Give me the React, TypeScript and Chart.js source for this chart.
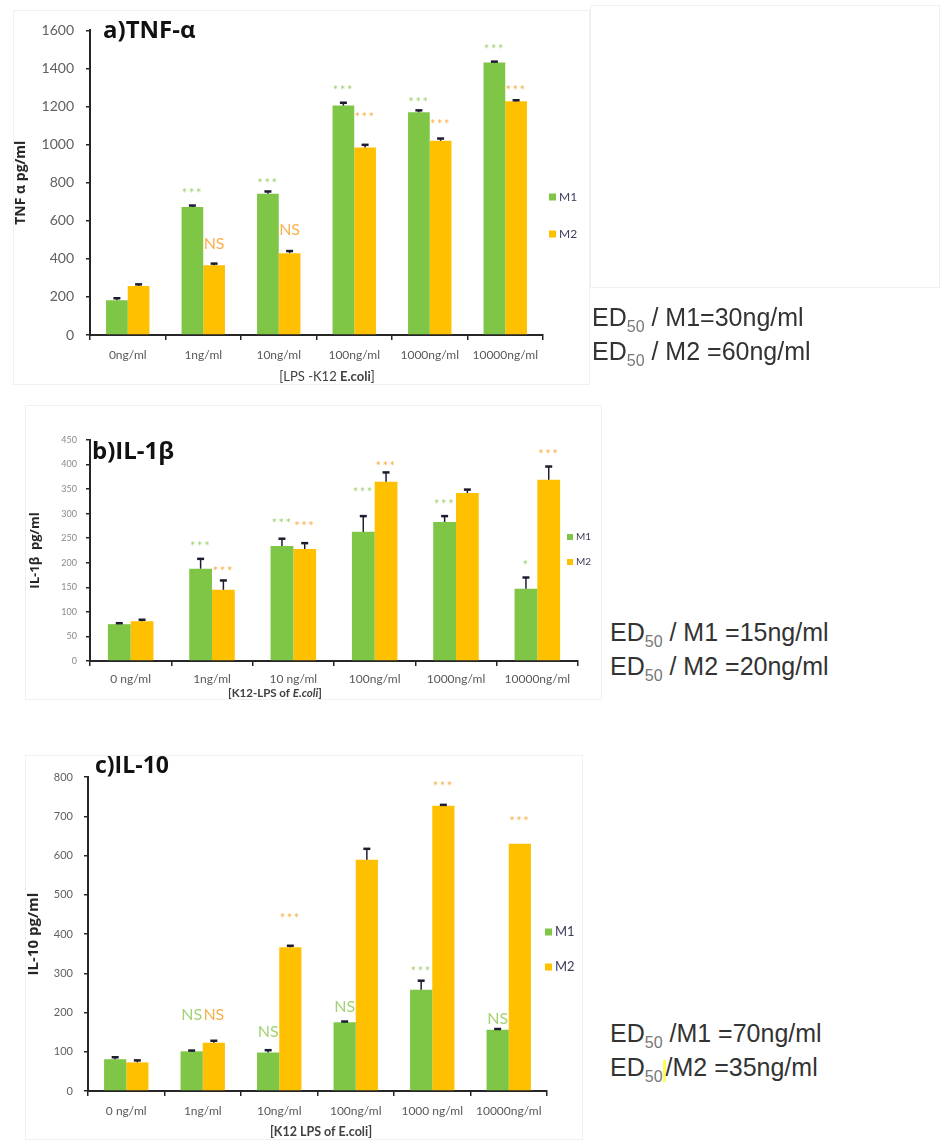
import React, { useEffect, useRef } from "react";
import { Chart, registerables } from "chart.js";

Chart.register(...registerables);

// ---------- DATA ----------
const seriesNames = ["M1", "M2"];

// a) TNF-alpha
const tnfCategories = ["0ng/ml", "1ng/ml", "10ng/ml", "100ng/ml", "1000ng/ml", "10000ng/ml"];
const tnfM1 = [183, 672, 742, 1205, 1170, 1432];
const tnfM1Err = [10, 8, 12, 15, 10, 4];
const tnfM2 = [258, 366, 430, 985, 1020, 1228];
const tnfM2Err = [8, 9, 11, 14, 12, 5];
const tnfM1Sig = ["", "***", "***", "***", "***", "***"];
const tnfM1SigAt = [0, 753, 805, 1295, 1229, 1506];
const tnfM2Sig = ["", "NS", "NS", "***", "***", "***"];
const tnfM2SigAt = [0, 480, 554, 1151, 1117, 1295];
const tnfYTicks = [0, 200, 400, 600, 800, 1000, 1200, 1400, 1600];

// b) IL-1beta
const il1bCategories = ["0 ng/ml", "1ng/ml", "10 ng/ml", "100ng/ml", "1000ng/ml", "10000ng/ml"];
const il1bM1 = [75, 188, 234, 263, 283, 147];
const il1bM1Err = [2, 20, 15, 32, 12, 23];
const il1bM2 = [81, 145, 228, 365, 342, 369];
const il1bM2Err = [3, 19, 12, 19, 7, 27];
const il1bM1Sig = ["", "***", "***", "***", "***", "*"];
const il1bM1SigAt = [0, 236, 283, 346, 322, 198];
const il1bM2Sig = ["", "***", "***", "***", "", "***"];
const il1bM2SigAt = [0, 185, 278, 400, 0, 423];
const il1bYTicks = [0, 50, 100, 150, 200, 250, 300, 350, 400, 450];

// c) IL-10
const il10Categories = ["0 ng/ml", "1ng/ml", "10ng/ml", "100ng/ml", "1000 ng/ml", "10000ng/ml"];
const il10M1 = [81, 101, 98, 175, 258, 156];
const il10M1Err = [5, 2, 6, 2, 23, 2];
const il10M2 = [73, 123, 366, 589, 727, 630];
const il10M2Err = [5, 5, 4, 28, 2, 0];
const il10M1Sig = ["", "NS", "NS", "NS", "***", "NS"];
const il10M1SigAt = [0, 193, 151, 215, 308, 185];
const il10M2Sig = ["", "NS", "***", "", "***", "***"];
const il10M2SigAt = [0, 193, 444, 0, 781, 691];
const il10YTicks = [0, 100, 200, 300, 400, 500, 600, 700, 800];

// ---------- STYLE ----------
const GREEN = "#80c646";
const ORANGE = "#ffc000";
const GREEN_LABEL = "#a2d273";
const ORANGE_LABEL = "#f8b04c";
const AXIS = "#262626";
const TICK_FONT = "Lato, 'Open Sans', sans-serif";
const TITLE_FONT = "'Open Sans', 'DejaVu Sans', sans-serif";

type Seg = { text: string; bold?: boolean; italic?: boolean };

const overlayPlugin = {
  id: "overlay",
  afterDatasetsDraw(chart: any) {
    const o = chart.options.plugins.overlay;
    const ctx = chart.ctx;
    const ys = chart.scales.y;
    ctx.save();
    chart.data.datasets.forEach((ds: any, di: number) => {
      const meta = chart.getDatasetMeta(di);
      meta.data.forEach((bar: any, i: number) => {
        const v = ds.data[i];
        const e = ds.errors[i];
        if (e > 0) {
          const y0 = ys.getPixelForValue(v);
          const y1 = ys.getPixelForValue(v + e);
          ctx.strokeStyle = "#1d1d30";
          ctx.lineWidth = 1.5;
          ctx.beginPath();
          ctx.moveTo(bar.x, y0);
          ctx.lineTo(bar.x, y1);
          ctx.stroke();
          ctx.lineWidth = 2.5;
          ctx.beginPath();
          ctx.moveTo(bar.x - 3.5, y1);
          ctx.lineTo(bar.x + 3.5, y1);
          ctx.stroke();
        }
        const s = ds.sig[i];
        if (s) {
          const ns = s === "NS";
          ctx.font = `${ns ? o.nsSize : o.starSize}px ${TICK_FONT}`;
          (ctx as any).letterSpacing = ns ? "0px" : "1.5px";
          ctx.fillStyle = ds.sigColor;
          ctx.textAlign = "center";
          ctx.textBaseline = "middle";
          ctx.fillText(s, bar.x, ys.getPixelForValue(ds.sigAt[i]) + (ns ? 0 : 2));
        }
      });
    });
    (ctx as any).letterSpacing = "0px";
    ctx.restore();
  },
  afterDraw(chart: any) {
    const o = chart.options.plugins.overlay;
    const ctx = chart.ctx;
    ctx.save();
    // panel title
    ctx.font = `bold ${o.titleSize}px ${TITLE_FONT}`;
    ctx.fillStyle = "#111";
    ctx.textAlign = "left";
    ctx.textBaseline = "middle";
    ctx.fillText(o.title, o.titleX, o.titleY);
    // x axis title (mixed styles)
    const segs: Seg[] = o.xTitle;
    const fontOf = (s: Seg) =>
      `${s.italic ? "italic " : ""}${s.bold || o.xTitleBold ? "bold " : ""}${o.xTitleSize}px ${TICK_FONT}`;
    let total = 0;
    segs.forEach((s) => {
      ctx.font = fontOf(s);
      total += ctx.measureText(s.text).width;
    });
    let x = o.xTitleX - total / 2;
    ctx.fillStyle = "#404040";
    segs.forEach((s) => {
      ctx.font = fontOf(s);
      ctx.fillText(s.text, x, o.xTitleY);
      x += ctx.measureText(s.text).width;
    });
    // legend
    chart.data.datasets.forEach((ds: any, di: number) => {
      const y = o.legendYs[di];
      ctx.fillStyle = ds.backgroundColor;
      ctx.fillRect(o.legendX, y - o.legendBox / 2, o.legendBox, o.legendBox);
      ctx.font = `${o.legendSize}px ${TICK_FONT}`;
      ctx.fillStyle = "#3c3c5c";
      ctx.fillText(ds.label, o.legendX + o.legendBox + 3, y);
    });
    ctx.restore();
  },
};

interface PanelCfg {
  left: number;
  top: number;
  width: number;
  height: number;
  categories: string[];
  m1: number[];
  m1Err: number[];
  m1Sig: string[];
  m1SigAt: number[];
  m2: number[];
  m2Err: number[];
  m2Sig: string[];
  m2SigAt: number[];
  yTicks: number[];
  yTitle: string;
  yTitleSize: number;
  yTitlePad: number;
  yTickSize: number;
  yTickPad: number;
  yTickColor: string;
  xTickSize: number;
  xTickPad: number;
  padTop: number;
  padRight: number;
  yWidth: number;
  xHeight: number;
  catPct: number;
  overlay: any;
}

function Panel({ cfg }: { cfg: PanelCfg }) {
  const ref = useRef<HTMLCanvasElement>(null);
  useEffect(() => {
    const maxY = cfg.yTicks[cfg.yTicks.length - 1];
    const chart = new Chart(ref.current as HTMLCanvasElement, {
      type: "bar",
      data: {
        labels: cfg.categories,
        datasets: [
          {
            label: seriesNames[0],
            data: cfg.m1,
            backgroundColor: GREEN,
            errors: cfg.m1Err,
            sig: cfg.m1Sig,
            sigAt: cfg.m1SigAt,
            sigColor: GREEN_LABEL,
            categoryPercentage: cfg.catPct,
            barPercentage: 1,
          } as any,
          {
            label: seriesNames[1],
            data: cfg.m2,
            backgroundColor: ORANGE,
            errors: cfg.m2Err,
            sig: cfg.m2Sig,
            sigAt: cfg.m2SigAt,
            sigColor: ORANGE_LABEL,
            categoryPercentage: cfg.catPct,
            barPercentage: 1,
          } as any,
        ],
      },
      options: {
        animation: false,
        responsive: false,
        devicePixelRatio: 1,
        layout: { padding: { top: cfg.padTop, right: cfg.padRight, left: 0, bottom: 0 } },
        plugins: {
          legend: { display: false },
          tooltip: { enabled: false },
          overlay: cfg.overlay,
        } as any,
        scales: {
          x: {
            afterFit: (s: any) => {
              s.height = cfg.xHeight;
            },
            grid: {
              offset: true,
              drawOnChartArea: false,
              drawTicks: true,
              tickLength: 5,
              color: AXIS,
              lineWidth: 1.5,
            },
            border: { color: AXIS, width: 2 },
            ticks: {
              color: "#595959",
              font: { family: TICK_FONT, size: cfg.xTickSize },
              padding: cfg.xTickPad,
              maxRotation: 0,
              autoSkip: false,
            },
          },
          y: {
            min: 0,
            max: maxY,
            afterFit: (s: any) => {
              s.width = cfg.yWidth;
            },
            afterBuildTicks: (s: any) => {
              s.ticks = cfg.yTicks.map((v) => ({ value: v }));
            },
            grid: {
              drawOnChartArea: false,
              drawTicks: true,
              tickLength: 4,
              color: AXIS,
              lineWidth: 1.5,
            },
            border: { color: AXIS, width: 2 },
            ticks: {
              color: cfg.yTickColor,
              font: { family: TICK_FONT, size: cfg.yTickSize },
              padding: cfg.yTickPad,
              callback: (v: any) => String(v),
            },
            title: {
              display: true,
              text: cfg.yTitle,
              color: "#262626",
              font: { family: TITLE_FONT, size: cfg.yTitleSize, weight: "bold" },
              padding: { top: cfg.yTitlePad, bottom: 0 },
            },
          },
        },
      },
      plugins: [overlayPlugin],
    });
    return () => chart.destroy();
  }, [cfg]);
  return (
    <canvas
      ref={ref}
      width={cfg.width}
      height={cfg.height}
      style={{ position: "absolute", left: cfg.left, top: cfg.top, width: cfg.width, height: cfg.height }}
    />
  );
}

const panelA: PanelCfg = {
  left: 13,
  top: 10,
  width: 590,
  height: 375,
  categories: tnfCategories,
  m1: tnfM1,
  m1Err: tnfM1Err,
  m1Sig: tnfM1Sig,
  m1SigAt: tnfM1SigAt,
  m2: tnfM2,
  m2Err: tnfM2Err,
  m2Sig: tnfM2Sig,
  m2SigAt: tnfM2SigAt,
  yTicks: tnfYTicks,
  yTitle: "TNF α pg/ml",
  yTitleSize: 14,
  yTitlePad: 0,
  yTickSize: 14,
  yTickPad: 12,
  yTickColor: "#606060",
  xTickSize: 12,
  xTickPad: 8,
  padTop: 19,
  padRight: 60,
  yWidth: 77,
  xHeight: 50,
  catPct: 0.575,
  overlay: {
    title: "a)TNF-α",
    titleSize: 24,
    titleX: 90,
    titleY: 21,
    xTitle: [{ text: "[LPS -K12 " }, { text: "E.coli", bold: true }, { text: "]" }],
    xTitleBold: false,
    xTitleSize: 13,
    xTitleX: 314,
    xTitleY: 367,
    legendX: 536,
    legendYs: [187, 224],
    legendBox: 7,
    legendSize: 12,
    starSize: 13,
    nsSize: 16,
  },
};

const panelB: PanelCfg = {
  left: 25,
  top: 405,
  width: 577,
  height: 298,
  categories: il1bCategories,
  m1: il1bM1,
  m1Err: il1bM1Err,
  m1Sig: il1bM1Sig,
  m1SigAt: il1bM1SigAt,
  m2: il1bM2,
  m2Err: il1bM2Err,
  m2Sig: il1bM2Sig,
  m2SigAt: il1bM2SigAt,
  yTicks: il1bYTicks,
  yTitle: "IL-1β  pg/ml",
  yTitleSize: 13,
  yTitlePad: 2,
  yTickSize: 9,
  yTickPad: 9,
  yTickColor: "#8a8a8a",
  xTickSize: 12,
  xTickPad: 6,
  padTop: 35,
  padRight: 24,
  yWidth: 65,
  xHeight: 42,
  catPct: 0.56,
  overlay: {
    title: "b)IL-1β",
    titleSize: 24,
    titleX: 67,
    titleY: 47,
    xTitle: [{ text: "[K12-LPS of " }, { text: "E.coli", italic: true }, { text: "]" }],
    xTitleBold: true,
    xTitleSize: 11.5,
    xTitleX: 250,
    xTitleY: 288,
    legendX: 542,
    legendYs: [132, 157],
    legendBox: 6,
    legendSize: 10,
    starSize: 13,
    nsSize: 15,
  },
};

const panelC: PanelCfg = {
  left: 25,
  top: 755,
  width: 565,
  height: 385,
  categories: il10Categories,
  m1: il10M1,
  m1Err: il10M1Err,
  m1Sig: il10M1Sig,
  m1SigAt: il10M1SigAt,
  m2: il10M2,
  m2Err: il10M2Err,
  m2Sig: il10M2Sig,
  m2SigAt: il10M2SigAt,
  yTicks: il10YTicks,
  yTitle: "IL-10 pg/ml",
  yTitleSize: 15,
  yTitlePad: 0,
  yTickSize: 11,
  yTickPad: 11,
  yTickColor: "#606060",
  xTickSize: 12,
  xTickPad: 8,
  padTop: 22,
  padRight: 43,
  yWidth: 63,
  xHeight: 49,
  catPct: 0.58,
  overlay: {
    title: "c)IL-10",
    titleSize: 23,
    titleX: 70,
    titleY: 11,
    xTitle: [{ text: "[K12 LPS of E.coli]" }],
    xTitleBold: true,
    xTitleSize: 12.5,
    xTitleX: 296,
    xTitleY: 377,
    legendX: 520,
    legendYs: [177, 212],
    legendBox: 7,
    legendSize: 13,
    starSize: 13,
    nsSize: 16,
  },
};

const edStyle: React.CSSProperties = {
  position: "absolute",
  fontFamily: "'Liberation Sans', Arial, sans-serif",
  fontSize: 25,
  lineHeight: "30px",
  color: "#333333",
  whiteSpace: "nowrap",
};
const subStyle: React.CSSProperties = {
  fontSize: 16,
  position: "relative",
  top: 6,
  color: "#777777",
};

function Frame({ l, t, r, b }: { l: number; t: number; r: number; b: number }) {
  return (
    <div
      style={{
        position: "absolute",
        left: l,
        top: t,
        width: r - l,
        height: b - t,
        border: "1px solid #f0f0f0",
        boxSizing: "border-box",
      }}
    />
  );
}

export default function App() {
  return (
    <div style={{ position: "absolute", left: 0, top: 0, width: 940, height: 1140, background: "#ffffff", overflow: "hidden" }}>
      <Frame l={13} t={10} r={590} b={385} />
      <Frame l={590} t={5} r={940} b={288} />
      <Frame l={25} t={405} r={602} b={700} />
      <Frame l={25} t={755} r={583} b={1140} />
      <Panel cfg={panelA} />
      <Panel cfg={panelB} />
      <Panel cfg={panelC} />
      <div style={{ ...edStyle, left: 592, top: 302 }}>
        <div>
          ED<span style={subStyle}>50</span> / M1=30ng/ml
        </div>
        <div>
          ED<span style={subStyle}>50</span> / M2 =60ng/ml
        </div>
      </div>
      <div style={{ ...edStyle, left: 610, top: 617 }}>
        <div>
          ED<span style={subStyle}>50</span> / M1 =15ng/ml
        </div>
        <div>
          ED<span style={subStyle}>50</span> / M2 =20ng/ml
        </div>
      </div>
      <div style={{ ...edStyle, left: 610, top: 1018 }}>
        <div>
          ED<span style={subStyle}>50</span> /M1 =70ng/ml
        </div>
        <div>
          ED<span style={subStyle}>50</span>
          <span style={{ display: "inline-block", width: 3, height: 22, background: "#ffff55", verticalAlign: "-6px" }} />
          /M2 =35ng/ml
        </div>
      </div>
    </div>
  );
}
